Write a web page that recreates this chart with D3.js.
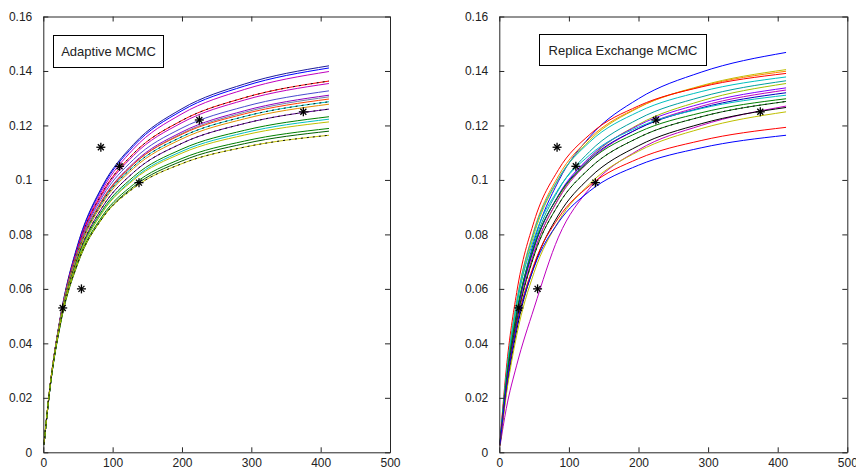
<!DOCTYPE html>
<html>
<head>
<meta charset="utf-8">
<script src="https://cdn.jsdelivr.net/npm/d3@7"></script>
<style>
  html, body { margin: 0; padding: 0; background: #fff; }
  svg { display: block; }
  text { font-family: Arial, "Liberation Sans", sans-serif; fill: #222; }
</style>
</head>
<body>
<svg id="chart" width="856" height="472"></svg>
<script>
// ---------- data ----------
const sampleX = [1, 10, 25, 50, 85, 130, 200, 290, 412];

const observedX = [28, 55, 83, 110, 138, 225, 375];
const observedY = [0.053, 0.060, 0.112, 0.105, 0.099, 0.122, 0.125];

const xTicks = [0, 100, 200, 300, 400, 500];
const yTicks = [0, 0.02, 0.04, 0.06, 0.08, 0.1, 0.12, 0.14, 0.16];
const yTickLabels = ["0", "0.02", "0.04", "0.06", "0.08", "0.1", "0.12", "0.14", "0.16"];

const panelTitles = ["Adaptive MCMC", "Replica Exchange MCMC"];

// Adaptive MCMC curves (y at sampleX)
const adaptiveCurves = [
  [0.00288, 0.02473, 0.05026, 0.07660, 0.09766, 0.11302, 0.12615, 0.13520, 0.1419],
  [0.00286, 0.02459, 0.04998, 0.07617, 0.09710, 0.11239, 0.12544, 0.13444, 0.1411],
  [0.00284, 0.02437, 0.04952, 0.07546, 0.09621, 0.11135, 0.12428, 0.13320, 0.1398],
  [0.00290, 0.02477, 0.04985, 0.07525, 0.09523, 0.10965, 0.12184, 0.13018, 0.1363],
  [0.00288, 0.02460, 0.04952, 0.07475, 0.09460, 0.10893, 0.12103, 0.12932, 0.1354],
  [0.00292, 0.02480, 0.04959, 0.07440, 0.09369, 0.10746, 0.11905, 0.12691, 0.1327],
  [0.00288, 0.02450, 0.04899, 0.07351, 0.09256, 0.10616, 0.11761, 0.12538, 0.1311],
  [0.00287, 0.02439, 0.04877, 0.07317, 0.09213, 0.10568, 0.11707, 0.12481, 0.1305],
  [0.00296, 0.02497, 0.04960, 0.07388, 0.09254, 0.10574, 0.11678, 0.12424, 0.1297],
  [0.00293, 0.02477, 0.04921, 0.07331, 0.09183, 0.10493, 0.11588, 0.12328, 0.1287],
  [0.00291, 0.02460, 0.04887, 0.07279, 0.09119, 0.10420, 0.11507, 0.12242, 0.1278],
  [0.00287, 0.02426, 0.04818, 0.07177, 0.08990, 0.10273, 0.11345, 0.12070, 0.1260],
  [0.00292, 0.02446, 0.04822, 0.07132, 0.08886, 0.10115, 0.11134, 0.11820, 0.1232],
  [0.00290, 0.02428, 0.04787, 0.07080, 0.08821, 0.10041, 0.11052, 0.11733, 0.1223],
  [0.00292, 0.02447, 0.04805, 0.07082, 0.08797, 0.09996, 0.10984, 0.11648, 0.1213],
  [0.00292, 0.02437, 0.04768, 0.07000, 0.08671, 0.09832, 0.10787, 0.11426, 0.1189],
  [0.00290, 0.02417, 0.04728, 0.06941, 0.08598, 0.09749, 0.10696, 0.11330, 0.1179],
  [0.00299, 0.02467, 0.04785, 0.06971, 0.08585, 0.09694, 0.10599, 0.11204, 0.1164]
];
const adaptiveColors = ["#1a1a9a", "#0000ff", "#bf00bf", "#ff0000", "#bf00bf", "#4a4ad0",
  "#9000c0", "#7080a8", "#ff4000", "#00bfbf", "#e09000", "#5a0090",
  "#008000", "#00bfbf", "#bfbf00", "#008000", "#006000", "#bfbf00"];
const adaptiveDashed = [false, false, false, true, false, false, false, false, false, true,
  false, true, false, false, false, false, false, true];

// Replica Exchange MCMC curves (y at sampleX)
const replicaCurves = [
  [0.00283, 0.02463, 0.05044, 0.07754, 0.09955, 0.11581, 0.12982, 0.13955, 0.1468],
  [0.00320, 0.02705, 0.05373, 0.08003, 0.10025, 0.11455, 0.12651, 0.13458, 0.1405],
  [0.00337, 0.02822, 0.05541, 0.08167, 0.10146, 0.11529, 0.12668, 0.13435, 0.1399],
  [0.00373, 0.03052, 0.05869, 0.08478, 0.10377, 0.11669, 0.12717, 0.13411, 0.1391],
  [0.00339, 0.02825, 0.05526, 0.08112, 0.10050, 0.11395, 0.12501, 0.13243, 0.1378],
  [0.00300, 0.02549, 0.05097, 0.07648, 0.09630, 0.11046, 0.12236, 0.13045, 0.1364],
  [0.00275, 0.02360, 0.04796, 0.07309, 0.09318, 0.10785, 0.12037, 0.12901, 0.1354],
  [0.00294, 0.02501, 0.05000, 0.07502, 0.09446, 0.10835, 0.12003, 0.12797, 0.1338],
  [0.00283, 0.02417, 0.04864, 0.07343, 0.09293, 0.10700, 0.11889, 0.12703, 0.1330],
  [0.00301, 0.02541, 0.05048, 0.07519, 0.09418, 0.10762, 0.11885, 0.12644, 0.1320],
  [0.00337, 0.02778, 0.05390, 0.07852, 0.09669, 0.10918, 0.11938, 0.12618, 0.1311],
  [0.00313, 0.02618, 0.05141, 0.07578, 0.09413, 0.10697, 0.11753, 0.12465, 0.1298],
  [0.00283, 0.02407, 0.04813, 0.07222, 0.09093, 0.10430, 0.11555, 0.12318, 0.1288],
  [0.00220, 0.01600, 0.03200, 0.05300, 0.07900, 0.09700, 0.11100, 0.12000, 0.1271],
  [0.00257, 0.02207, 0.04484, 0.06834, 0.08713, 0.10084, 0.11255, 0.12062, 0.1266],
  [0.00241, 0.02098, 0.04295, 0.06603, 0.08476, 0.09861, 0.11054, 0.11883, 0.1250],
  [0.00283, 0.02368, 0.04669, 0.06906, 0.08605, 0.09795, 0.10781, 0.11446, 0.1193],
  [0.00281, 0.02348, 0.04611, 0.06795, 0.08441, 0.09593, 0.10540, 0.11178, 0.1164]
];
const replicaColors = ["#0000ff", "#bfbf00", "#ff8000", "#ff0000", "#00bfbf", "#00a0a0",
  "#a0c000", "#8000ff", "#bf00bf", "#0000c0", "#00bfbf", "#008000",
  "#006400", "#bf00bf", "#000000", "#bfbf00", "#ff0000", "#0000ff"];
const replicaDashed = [false, false, false, false, false, false, false, false, false, false,
  false, false, true, false, false, false, false, false];

// ---------- drawing ----------
const svg = d3.select("#chart");
const panels = [
  { left: 43.3, right: 390, curves: adaptiveCurves, colors: adaptiveColors, dashed: adaptiveDashed,
    title: panelTitles[0], box: { x: 53, y: 35, w: 110, h: 32 } },
  { left: 499.3, right: 847.3, curves: replicaCurves, colors: replicaColors, dashed: replicaDashed,
    title: panelTitles[1], box: { x: 539, y: 34, w: 167, h: 31 } }
];
const plotTop = 16.5, plotBottom = 452.3;

panels.forEach(p => {
  const x = d3.scaleLinear().domain([0, 500]).range([p.left, p.right]);
  const y = d3.scaleLinear().domain([0, 0.16]).range([plotBottom, plotTop]);
  const g = svg.append("g");

  const line = d3.line()
    .x((d, i) => x(sampleX[i]))
    .y(d => y(d))
    .curve(d3.curveMonotoneX);

  p.curves.forEach((c, i) => {
    g.append("path").attr("d", line(c))
      .attr("fill", "none").attr("stroke", p.colors[i]).attr("stroke-width", 1);
    if (p.dashed[i]) {
      g.append("path").attr("d", line(c))
        .attr("fill", "none").attr("stroke", "#111").attr("stroke-width", 1)
        .attr("stroke-dasharray", "2,4");
    }
  });

  // observed points: '*' markers
  const r = 4.5, rd = 3;
  observedX.forEach((ox, i) => {
    const cx = x(ox), cy = y(observedY[i]);
    const m = g.append("g").attr("stroke", "#000").attr("stroke-width", 1.3);
    m.append("line").attr("x1", cx - r).attr("x2", cx + r).attr("y1", cy).attr("y2", cy);
    m.append("line").attr("x1", cx).attr("x2", cx).attr("y1", cy - r).attr("y2", cy + r);
    m.append("line").attr("x1", cx - rd).attr("x2", cx + rd).attr("y1", cy - rd).attr("y2", cy + rd);
    m.append("line").attr("x1", cx - rd).attr("x2", cx + rd).attr("y1", cy + rd).attr("y2", cy - rd);
  });

  // axes
  const axisColor = "#262626";
  const styleAxis = sel => {
    sel.selectAll("path.domain").attr("stroke", axisColor).attr("stroke-width", 1);
    sel.selectAll(".tick line").attr("stroke", axisColor);
    sel.selectAll(".tick text").attr("fill", "#222")
      .style("font-family", "Arial, 'Liberation Sans', sans-serif").style("font-size", "12px");
  };

  const ax = g.append("g").attr("transform", `translate(0,${plotBottom})`)
    .call(d3.axisBottom(x).tickValues(xTicks).tickSizeInner(-5).tickSizeOuter(0).tickPadding(6).tickFormat(d3.format("d")));
  styleAxis(ax);
  const ay = g.append("g").attr("transform", `translate(${p.left},0)`)
    .call(d3.axisLeft(y).tickValues(yTicks).tickSizeInner(-5).tickSizeOuter(0).tickPadding(11)
      .tickFormat((d, i) => yTickLabels[i]));
  styleAxis(ay);
  const at = g.append("g").attr("transform", `translate(0,${plotTop})`)
    .call(d3.axisTop(x).tickValues(xTicks).tickSizeInner(-5).tickSizeOuter(0).tickFormat(""));
  styleAxis(at);
  const ar = g.append("g").attr("transform", `translate(${p.right},0)`)
    .call(d3.axisRight(y).tickValues(yTicks).tickSizeInner(-5).tickSizeOuter(0).tickFormat(""));
  styleAxis(ar);

  // legend box
  g.append("rect").attr("x", p.box.x + 0.5).attr("y", p.box.y + 0.5)
    .attr("width", p.box.w).attr("height", p.box.h)
    .attr("fill", "#fff").attr("stroke", "#000").attr("stroke-width", 1);
  g.append("text").attr("x", p.box.x + p.box.w / 2 + 0.5).attr("y", p.box.y + p.box.h / 2 + 5)
    .attr("text-anchor", "middle").style("font-size", "13px").attr("fill", "#111")
    .text(p.title);
});
</script>
</body>
</html>
